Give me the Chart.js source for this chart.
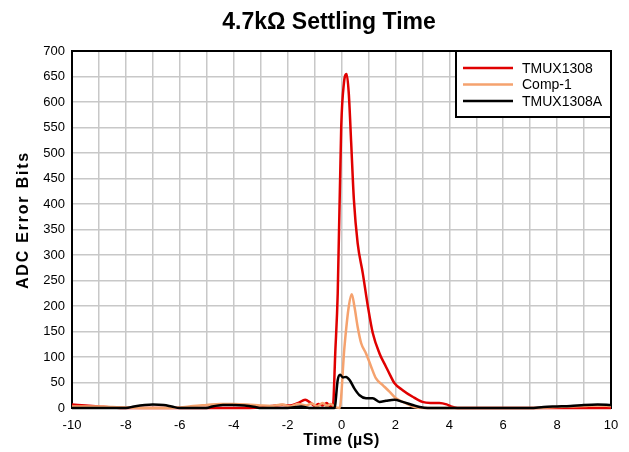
<!DOCTYPE html>
<html>
<head>
<meta charset="utf-8">
<script src="https://cdn.jsdelivr.net/npm/chart.js@4/dist/chart.umd.min.js"></script>
<style>
  html, body { margin: 0; padding: 0; background: #fff; }
  #wrap { width: 629px; height: 452px; }
</style>
</head>
<body>
<div id="wrap"><canvas id="c" width="629" height="452"></canvas></div>
<script>
// Settling response of the ADC after a channel switch (4.7 kOhm source)
const chartTitle = '4.7kΩ Settling Time';
const xAxisTitle = 'Time (µS)';
const yAxisTitle = 'ADC Error Bits';
const seriesNames = ['TMUX1308', 'Comp-1', 'TMUX1308A'];

// TMUX1308
const tmuxTime = [-10, -9.5, -9, -8.5, -8, -6, -4, -3, -2.6, -2.2, -1.9, -1.6, -1.35, -1.15, -1.0, -0.85, -0.7, -0.55, -0.45, -0.32,
  -0.23, -0.14, -0.01, 0.09, 0.19, 0.27, 0.36, 0.46, 0.6, 0.79, 0.98, 1.16, 1.41, 1.65, 1.8, 1.96, 2.27, 2.64, 3.0, 3.3, 3.63, 3.9, 4.06, 4.3, 10];
const tmuxBits = [7, 5, 3, 1, 0, 0, 0, 1, 4, 6, 5, 10, 16, 10, 4, 8, 5, 10, 4, 3,
  110, 225, 552, 637, 655, 617, 519, 408, 323, 264, 199, 147, 107, 81, 65, 49, 35, 22, 12, 10, 10, 7, 3, 0, 0];

// Comp-1
const compTime = [-10, -9, -8.5, -8, -7, -6, -5.5, -5, -4.5, -4, -3.5, -3, -2.6, -2.2, -1.9, -1.6, -1.3, -1.1, -0.9, -0.7, -0.55, -0.4, -0.25,
  -0.07, 0.11, 0.27, 0.38, 0.48, 0.6, 0.73, 0.91, 1.1, 1.28, 1.53, 1.78, 2.02, 2.4, 2.7, 3, 7, 8, 9, 9.5, 10];
const compBits = [3, 3, 2, 1, 0, 1, 4, 6, 8, 8, 7, 5, 4, 7, 3, 8, 5, 9, 3, 10, 4, 8, 2,
  0, 120, 199, 223, 199, 159, 127, 107, 81, 58, 45, 32, 19, 9, 2, 0, 0, 2, 4, 5, 4];

// TMUX1308A
const tmuxATime = [-10, -8, -7.7, -7.3, -7, -6.6, -6.3, -6, -5, -4.8, -4.4, -4, -3.6, -3.2, -3, -2, -1.5, -1.2,
  -0.26, -0.14, -0.05, 0.05, 0.17, 0.3, 0.48, 0.67, 0.91, 1.16, 1.41, 1.65, 1.96, 2.27, 2.64, 2.9, 3.2, 7, 7.5, 8, 8.5, 9, 9.5, 10];
const tmuxABits = [0, 0, 3, 6, 7, 6, 3, 0, 0, 3, 6, 6, 5, 2, 0, 0, 3, 0,
  0, 55, 65, 60, 61, 55, 38, 25, 19, 19, 12, 14, 16, 12, 6, 2, 0, 0, 2, 3, 4, 6, 7, 6];

const seriesColors = ['#e00000', '#f5a26e', '#000000'];

function toPoints(xs, ys) {
  return xs.map((x, i) => ({ x: x, y: ys[i] }));
}

const FONT = '"Liberation Sans", Arial, Helvetica, sans-serif';
const AREA = { left: 72, top: 51, right: 611, bottom: 408 };

// Frame, titles and the boxed legend
const decorations = {
  id: 'decorations',
  beforeDatasetsDraw(chart) {
    const { ctx, chartArea: a } = chart;
    ctx.save();
    ctx.strokeStyle = '#000';
    ctx.lineWidth = 2;
    ctx.strokeRect(a.left, a.top, a.right - a.left, a.bottom - a.top);
    ctx.restore();
  },
  afterDraw(chart) {
    const { ctx, chartArea: a } = chart;
    ctx.save();
    ctx.fillStyle = '#000';
    // chart title
    ctx.font = 'bold 23px ' + FONT;
    ctx.textAlign = 'center';
    ctx.textBaseline = 'alphabetic';
    ctx.fillText(chartTitle, 329, 29);
    // x axis title
    ctx.font = 'bold 16px ' + FONT;
    ctx.letterSpacing = '0.5px';
    ctx.fillText(xAxisTitle, (a.left + a.right) / 2, 445);
    // y axis title
    ctx.save();
    ctx.translate(28, 220);
    ctx.rotate(-Math.PI / 2);
    ctx.letterSpacing = '1.8px';
    ctx.fillText(yAxisTitle, 0, 0);
    ctx.restore();
    ctx.letterSpacing = '0px';

    // legend
    const lx = 456, ly = a.top, lw = a.right - 456, lh = 66;
    ctx.fillStyle = '#fff';
    ctx.fillRect(lx, ly, lw, lh);
    ctx.strokeStyle = '#000';
    ctx.lineWidth = 2;
    ctx.strokeRect(lx, ly, lw, lh);
    ctx.font = '14px ' + FONT;
    ctx.textAlign = 'left';
    ctx.textBaseline = 'middle';
    chart.data.datasets.forEach((ds, i) => {
      const y = ly + 17 + i * 16.5;
      ctx.strokeStyle = ds.borderColor;
      ctx.lineWidth = 2.5;
      ctx.beginPath();
      ctx.moveTo(463, y);
      ctx.lineTo(513, y);
      ctx.stroke();
      ctx.fillStyle = '#000';
      ctx.fillText(ds.label, 522, y + 1);
    });
    ctx.restore();
  }
};

const datasets = [
  { label: seriesNames[0], data: toPoints(tmuxTime, tmuxBits), borderColor: seriesColors[0], order: 2 },
  { label: seriesNames[1], data: toPoints(compTime, compBits), borderColor: seriesColors[1], order: 1 },
  { label: seriesNames[2], data: toPoints(tmuxATime, tmuxABits), borderColor: seriesColors[2], order: 0 }
].map(d => Object.assign(d, {
  borderWidth: 2.5,
  pointRadius: 0,
  fill: false,
  cubicInterpolationMode: 'monotone',
  clip: 2
}));

new Chart(document.getElementById('c'), {
  type: 'line',
  data: { datasets: datasets },
  options: {
    responsive: false,
    animation: false,
    layout: { padding: { left: 0, top: AREA.top, right: 629 - AREA.right, bottom: 0 } },
    plugins: { legend: { display: false }, title: { display: false }, tooltip: { enabled: false } },
    scales: {
      x: {
        type: 'linear',
        min: -10, max: 10,
        afterFit(s) { s.height = 452 - AREA.bottom; },
        grid: { color: '#c8c8c8', lineWidth: 1.5, drawTicks: false },
        border: { display: false },
        ticks: {
          stepSize: 1,
          autoSkip: false,
          maxRotation: 0,
          padding: 10,
          color: '#000',
          font: { family: FONT, size: 13 },
          callback: v => (v % 2 === 0 ? String(v) : '')
        }
      },
      y: {
        min: 0, max: 700,
        afterFit(s) { s.width = AREA.left; },
        grid: { color: '#c8c8c8', lineWidth: 1.5, drawTicks: false },
        border: { display: false },
        ticks: {
          stepSize: 50,
          padding: 7,
          color: '#000',
          font: { family: FONT, size: 13 }
        }
      }
    }
  },
  plugins: [decorations]
});
</script>
</body>
</html>
